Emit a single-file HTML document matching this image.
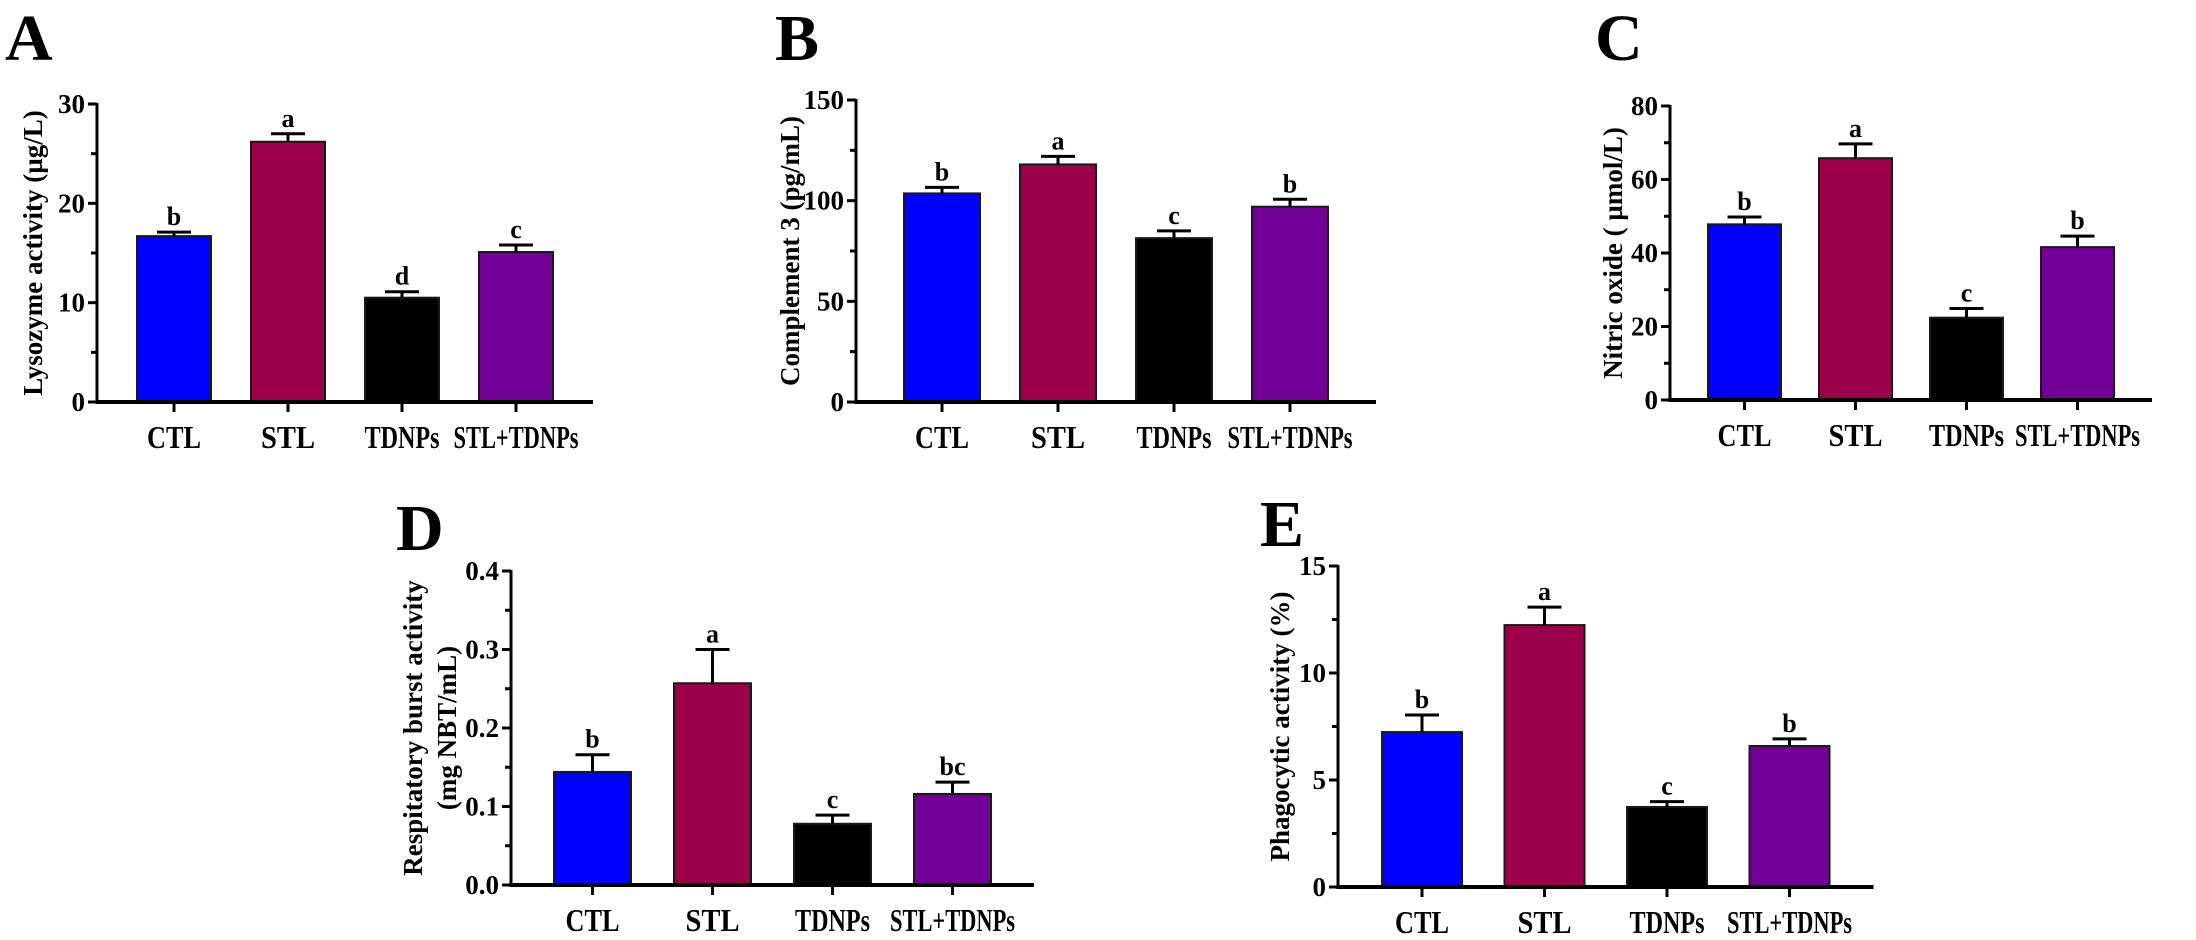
<!DOCTYPE html>
<html><head><meta charset="utf-8">
<style>
html,body{margin:0;padding:0;background:#fff;}
svg{display:block;font-family:"Liberation Serif",serif;font-weight:bold;}
</style></head>
<body>
<svg id="fig" width="2196" height="940" viewBox="0 0 2196 940" xmlns="http://www.w3.org/2000/svg"></svg>
<script>
const categories = ["CTL","STL","TDNPs","STL+TDNPs"];
const colors = ["#0000ff","#9b0048","#000000","#730096"];
const lysozymeValues = [16.7, 26.2, 10.5, 15.1];
const lysozymeErrors = [0.4, 0.8, 0.6, 0.7];
const lysozymeLetters = ["b","a","d","c"];
const lysozymeTicks = [0,10,20,30];
const c3Values = [103.6, 118, 81.4, 97];
const c3Errors = [3, 4, 3.6, 3.7];
const c3Letters = ["b","a","c","b"];
const c3Ticks = [0,50,100,150];
const noValues = [47.8, 65.8, 22.4, 41.6];
const noErrors = [2, 3.9, 2.5, 3];
const noLetters = ["b","a","c","b"];
const noTicks = [0,20,40,60,80];
const rbValues = [0.144, 0.257, 0.078, 0.116];
const rbErrors = [0.022, 0.043, 0.011, 0.015];
const rbLetters = ["b","a","c","bc"];
const rbTicks = [0.0,0.1,0.2,0.3,0.4];
const rbTickLabels = ["0.0","0.1","0.2","0.3","0.4"];
const phValues = [7.24, 12.24, 3.74, 6.59];
const phErrors = [0.8, 0.84, 0.25, 0.33];
const phLetters = ["b","a","c","b"];
const phTicks = [0,5,10,15];

const NS = "http://www.w3.org/2000/svg";
const svg = document.getElementById('fig');
function mk(tag, attrs, parent){
  const e = document.createElementNS(NS, tag);
  for (const k in attrs) e.setAttribute(k, attrs[k]);
  (parent||svg).appendChild(e);
  return e;
}
function labelWidth(s){
  if (s.length > 5) return 125;
  if (s.length > 3) return 75;
  return 54;
}

function panel(cfg){
  const g = mk('g', {});
  
  
  const ymax = cfg.ticks[cfg.ticks.length-1];
  const y = v => cfg.y0 - (v/ymax)*(cfg.y0-cfg.yTop);
  const xc = i => cfg.ax + cfg.off + cfg.bw/2 + i*cfg.step;
  const xEnd = cfg.ax + cfg.off + 3*cfg.step + cfg.bw + cfg.off;
  const L = mk('text', {x:cfg.lx, y:cfg.ly, 'font-size':66, fill:'#000'}, g);
  L.textContent = cfg.letter;
  
  
  for (let i=0;i<4;i++){
    const v = cfg.values[i], e = cfg.errors[i];
    const bx = xc(i)-cfg.bw/2;
    const r = mk('rect', {x:bx, y:y(v), width:cfg.bw, height:cfg.y0-y(v), fill:colors[i], stroke:'#1a1a1a', 'stroke-width':2}, g);
    
    
    const eb = mk('path', {d:`M${xc(i)} ${y(v)} V${y(v+e)} M${xc(i)-17} ${y(v+e)} H${xc(i)+17}`, stroke:'#000', 'stroke-width':3, fill:'none'}, g);
    
    
    const t = mk('text', {x:xc(i), y:y(v+e)-7, 'font-size':26, 'text-anchor':'middle'}, g);
    t.textContent = cfg.letters[i];
    
    
    const tk = mk('line', {x1:xc(i), x2:xc(i), y1:cfg.y0, y2:cfg.y0+10, stroke:'#000', 'stroke-width':3}, g);
    
    
    const cl = mk('text', {x:xc(i), y:cfg.y0+46, 'font-size':32, 'text-anchor':'middle', textLength: labelWidth(categories[i]), lengthAdjust:'spacingAndGlyphs'}, g);
    cl.textContent = categories[i];
    
    
  }
  const ya = mk('line', {x1:cfg.ax, x2:cfg.ax, y1:cfg.yTop-1, y2:cfg.y0+1.5, stroke:'#000', 'stroke-width':3}, g);
  
  
  const xa = mk('line', {x1:cfg.ax-1.5, x2:xEnd, y1:cfg.y0, y2:cfg.y0, stroke:'#000', 'stroke-width':4}, g);
  
  
  for (let k=0;k<cfg.ticks.length;k++){
    const tv = cfg.ticks[k];
    const tl = mk('line', {x1:cfg.ax-9, x2:cfg.ax, y1:y(tv), y2:y(tv), stroke:'#000', 'stroke-width':3}, g);
    
    
    if (k>0){
      const mv = (tv + cfg.ticks[k-1])/2;
      const ml = mk('line', {x1:cfg.ax-6, x2:cfg.ax, y1:y(mv), y2:y(mv), stroke:'#000', 'stroke-width':3}, g);
      
      
    }
    const lab = mk('text', {x:cfg.ax-12, y:y(tv)+9, 'font-size':27, 'text-anchor':'end'}, g);
    lab.textContent = cfg.tickLabels ? cfg.tickLabels[k] : String(tv);
    
    
  }
  const midY = (cfg.y0 + cfg.yTop)/2;
  cfg.titles.forEach((tt, j) => {
    const tx = cfg.tx[j];
    const t = mk('text', {x:tx, y:midY, 'font-size':27, 'text-anchor':'middle', transform:`rotate(-90 ${tx} ${midY})`, 'dominant-baseline':'central'}, g);
    t.textContent = tt;
    
    
  });
}

panel({name:'panel-a-lysozyme', letter:'A', lx:5, ly:60, ax:97, off:40, bw:74, step:114, y0:402, yTop:104,
  values:lysozymeValues, errors:lysozymeErrors, letters:lysozymeLetters, ticks:lysozymeTicks,
  titles:['Lysozyme activity (µg/L)'], tx:[33]});
panel({name:'panel-b-complement3', letter:'B', lx:775, ly:60, ax:856, off:48, bw:76, step:116, y0:402, yTop:100,
  values:c3Values, errors:c3Errors, letters:c3Letters, ticks:c3Ticks,
  titles:['Complement 3 (pg/mL)'], tx:[790]});
panel({name:'panel-c-nitric-oxide', letter:'C', lx:1595, ly:60, ax:1670, off:38, bw:73, step:111, y0:400, yTop:106,
  values:noValues, errors:noErrors, letters:noLetters, ticks:noTicks,
  titles:['Nitric oxide ( µmol/L)'], tx:[1613]});
panel({name:'panel-d-respiratory-burst', letter:'D', lx:396, ly:550, ax:511, off:43, bw:77, step:120, y0:885, yTop:571,
  values:rbValues, errors:rbErrors, letters:rbLetters, ticks:rbTicks, tickLabels:rbTickLabels,
  titles:['Respitatory burst activity','(mg NBT/mL)'], tx:[413,447]});
panel({name:'panel-e-phagocytic', letter:'E', lx:1260, ly:546, ax:1338, off:44, bw:80, step:122.5, y0:887, yTop:566,
  values:phValues, errors:phErrors, letters:phLetters, ticks:phTicks,
  titles:['Phagocytic activity (%)'], tx:[1280]});
</script>
</body></html>
